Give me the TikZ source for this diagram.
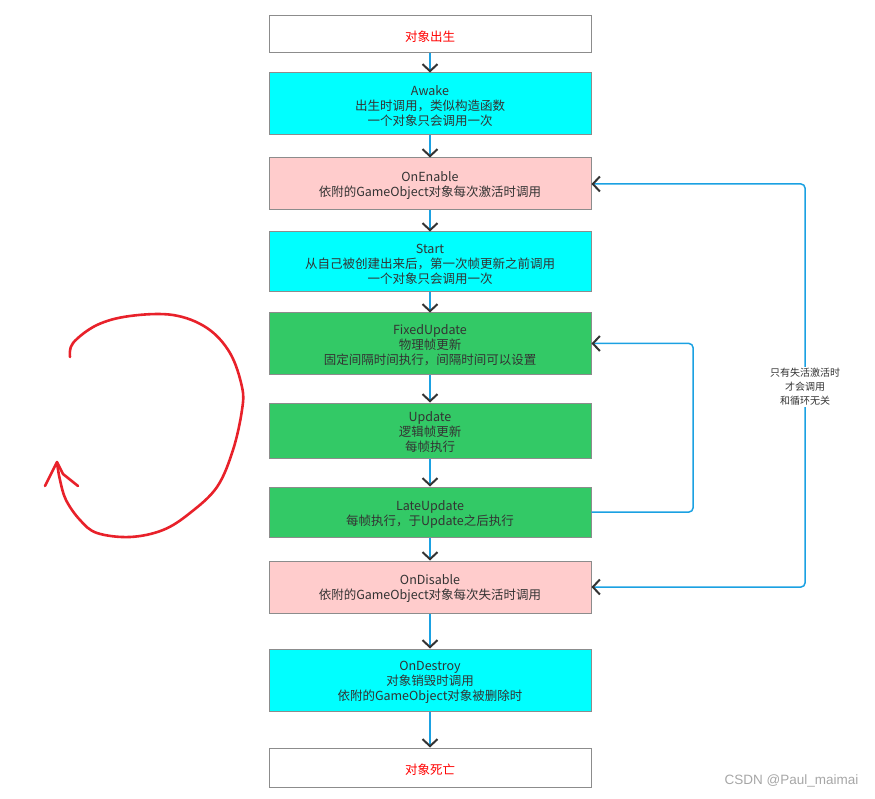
\documentclass[tikz,border=0pt]{standalone}
\usepackage{fontspec}
\setmainfont{Noto Sans CJK SC}
\newfontfamily\wmfont{Liberation Sans}
\usetikzlibrary{arrows.meta}

\definecolor{flowblue}{HTML}{1BA1E2}
\definecolor{tipgray}{HTML}{333333}
\definecolor{boxgray}{HTML}{8C8C8C}
\definecolor{textgray}{HTML}{333333}
\definecolor{cyanfill}{HTML}{00FFFF}
\definecolor{pinkfill}{HTML}{FFCCCC}
\definecolor{greenfill}{HTML}{33C966}
\definecolor{penred}{HTML}{E8212A}
\definecolor{wmgray}{HTML}{A6A6A6}

% strut that gives the first text line a little more head room
\newcommand{\headroom}{\rule{0pt}{14pt}}

\tikzset{
  box/.style={draw=boxgray, line width=1pt, minimum width=322pt, inner sep=0pt,
    align=center, text=textgray, font=\fontsize{12.5}{15}\selectfont},
  endbox/.style={box, fill=white, text=red},
  cyanbox/.style={box, fill=cyanfill},
  pinkbox/.style={box, fill=pinkfill},
  greenbox/.style={box, fill=greenfill},
  chev/.tip={Straight Barb[length=7pt, width=15pt, line width=2pt, color=tipgray]},
  flow/.style={draw=flowblue, line width=1.5pt, -chev},
  loopline/.style={draw=flowblue, line width=1.5pt, rounded corners=4pt},
}

\begin{document}
\begin{tikzpicture}[x=1pt, y=-1pt]
\useasboundingbox (0,0) rectangle (875,799);

% lifecycle boxes
\node[endbox,   minimum height=37pt] (born)    at (430,34.5) {\headroom 对象出生};
\node[cyanbox,  minimum height=62pt] (awake)   at (430,104)  {\headroom Awake\\出生时调用，类似构造函数\\一个对象只会调用一次};
\node[pinkbox,  minimum height=52pt] (enable)  at (430,184)  {\headroom OnEnable\\依附的GameObject对象每次激活时调用};
\node[cyanbox,  minimum height=60pt] (start)   at (430,262)  {\headroom Start\\从自己被创建出来后，第一次帧更新之前调用\\一个对象只会调用一次};
\node[greenbox, minimum height=61pt] (fixed)   at (430,343.5){\headroom FixedUpdate\\物理帧更新\\固定间隔时间执行，间隔时间可以设置};
\node[greenbox, minimum height=55pt] (update)  at (430,430.5){\headroom Update\\逻辑帧更新\\每帧执行};
\node[greenbox, minimum height=50pt] (late)    at (430,512)  {\headroom LateUpdate\\每帧执行，于Update之后执行};
\node[pinkbox,  minimum height=52pt] (disable) at (430,587)  {\headroom OnDisable\\依附的GameObject对象每次失活时调用};
\node[cyanbox,  minimum height=62pt] (destroy) at (430,680)  {\headroom OnDestroy\\对象销毁时调用\\依附的GameObject对象被删除时};
\node[endbox,   minimum height=39pt] (dead)    at (430,767.5){\headroom 对象死亡};

% main sequence
\draw[flow] (born)    -- (awake);
\draw[flow] (awake)   -- (enable);
\draw[flow] (enable)  -- (start);
\draw[flow] (start)   -- (fixed);
\draw[flow] (fixed)   -- (update);
\draw[flow] (update)  -- (late);
\draw[flow] (late)    -- (disable);
\draw[flow] (disable) -- (destroy);
\draw[flow] (destroy) -- (dead);

% frame loop
\coordinate (innerx) at (693,0);
\draw[loopline, -chev] (late.east) -- (late.east -| innerx) -- (fixed.east -| innerx) -- (fixed.east);

% enable / disable link
\coordinate (outerx) at (805,0);
\draw[loopline, chev-chev] (disable.east) -- (disable.east -| outerx) -- (enable.east -| outerx) -- (enable.east);
\node[fill=white, inner sep=1pt, align=center, text=textgray,
      font=\fontsize{10}{14}\selectfont] (note) at (805,387) {只有失活激活时\\才会调用\\和循环无关};

% hand-drawn cycle mark
\draw[penred, line width=2.6pt, line cap=round, line join=round]
  plot[smooth, tension=0.6] coordinates {
    (70,357) (73,343) (97,325) (130,316) (173,315) (207,328) (230,353)
    (242,387) (242,410) (233,450) (217,487) (190,513) (163,530) (130,537)
    (97,533) (80,520) (66,500) (60,480) (57,463)};
\draw[penred, line width=2.6pt, line cap=round, line join=round]
  (45,486) -- (57,462) -- (63,474) -- (78,486);

% watermark
\node[anchor=east, text=wmgray, font=\wmfont\fontsize{13.5}{15}\selectfont] (mark) at (862,781) {CSDN @Paul\_maimai};
\end{tikzpicture}
\end{document}
